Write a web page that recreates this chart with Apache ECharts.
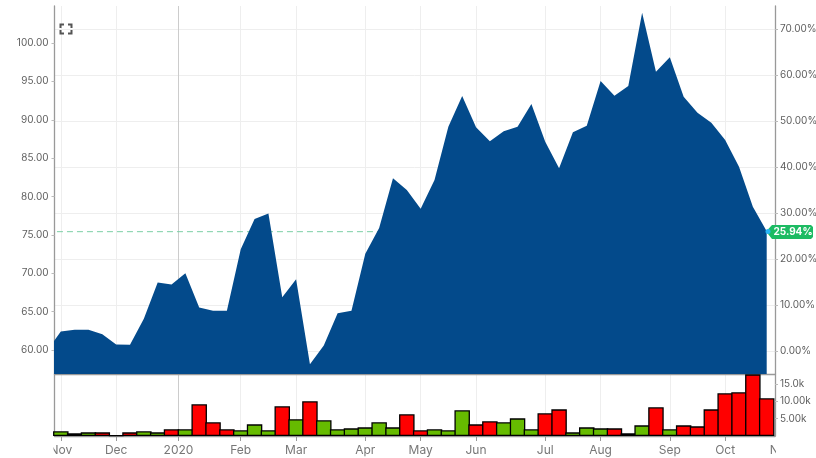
<!DOCTYPE html>
<html>
<head>
<meta charset="utf-8">
<style>
  html, body { margin: 0; padding: 0; background: #fff; }
  #main { width: 816px; height: 458px; }
</style>
<script src="https://cdn.jsdelivr.net/npm/echarts@6/dist/echarts.min.js"></script>
</head>
<body>
<div id="main"></div>
<script>
// weekly closes, the first one sits just left of the visible plot
const prices = [59.9, 62.41, 62.63, 62.63, 62.07, 60.72, 60.68, 64.06, 68.79, 68.53, 70.01, 65.53, 65.1, 65.1,
  73.14, 77.08, 77.8, 66.89, 69.23, 58.16, 60.59, 64.8, 65.1, 72.53, 75.91, 82.38, 80.86, 78.42, 82.16, 89.1,
  93.1, 89.02, 87.2, 88.5, 89.1, 92.06, 87.15, 83.68, 88.37, 89.23, 95.05, 93.14, 94.4, 103.95, 96.26, 98.14,
  93.01, 90.92, 89.62, 87.37, 83.89, 78.68, 75.46]
const volumes = [1350, 770, 1060, 1060, 190, 1060, 1350, 1060, 1930, 1930, 9150, 3950, 1930, 1640, 3370, 1640,
  8570, 4820, 10020, 4530, 1930, 2210, 2500, 3950, 2500, 6260, 1640, 1930, 1640, 7420, 3370, 4240, 3950, 5100,
  1930, 6550, 7700, 1060, 2500, 2210, 2210, 770, 3080, 8280, 1930, 3080, 2790, 7700, 12330, 12620, 17800, 10880]
// 1 = close up (green), 0 = close down (red)
const volumeUp = [1, 1, 1, 0, 1, 0, 1, 1, 0, 1, 0, 0, 0, 1, 1, 1, 0, 1, 0, 1, 1, 1, 1, 1, 1, 0, 0, 1, 1, 1, 0, 0,
  1, 1, 1, 0, 0, 1, 1, 1, 0, 1, 1, 0, 1, 0, 0, 0, 0, 0, 0, 0]
const monthWeeks = [0, 4, 8.5, 13, 17, 22, 26, 30, 35, 39, 44, 48]
const monthLabels = ['Nov', 'Dec', '2020', 'Feb', 'Mar', 'Apr', 'May', 'Jun', 'Jul', 'Aug', 'Sep', 'Oct']
const priceTicks = [60, 65, 70, 75, 80, 85, 90, 95, 100]
const percentTicks = [0, 10, 20, 30, 40, 50, 60, 70]
const volumeTicks = [5000, 10000, 15000]
const volumeLabels = ['5.00k', '10.00k', '15.0k']
const lastPercent = 25.94

const font = 'Inter'
const myChart = echarts.init(document.getElementById('main'))

const weekRange = { min: -0.455, max: 51.6 }
const monthLines = monthWeeks.map((w, i) => (monthLabels[i] === '2020' ? '#cccccc' : '#eeeeee'))
const axisLine = { show: true, onZero: false, lineStyle: { color: '#999', width: 1.3 } }

const option = {
  animation: false,
  grid: [
    { left: 54.5, right: 41, top: 6, height: 368, show: false, outerBoundsMode: 'none' },
    { left: 54.5, right: 41, top: 374, height: 62, show: false, outerBoundsMode: 'none' },
  ],
  xAxis: [
    {
      type: 'value', gridIndex: 0, ...weekRange, axisLine,
      axisTick: { show: false, customValues: monthWeeks },
      axisLabel: { show: false, customValues: monthWeeks },
      splitLine: { show: true, lineStyle: { color: monthLines, width: 1 } },
    },
    {
      type: 'value', gridIndex: 1, ...weekRange, axisLine,
      axisTick: { show: true, length: 5, customValues: monthWeeks, lineStyle: { color: '#999' } },
      axisLabel: {
        show: true, customValues: monthWeeks, margin: 8, color: '#777', fontFamily: font, fontSize: 12,
        hideOverlap: false, showMinLabel: true, showMaxLabel: true,
        formatter: (v) => monthLabels[monthWeeks.indexOf(v)],
      },
      splitLine: { show: true, lineStyle: { color: monthLines, width: 1 } },
    },
  ],
  yAxis: [
    {
      type: 'value', gridIndex: 0, position: 'left', min: 56.875, max: 104.82, axisLine,
      axisTick: { show: true, length: 3, customValues: priceTicks, lineStyle: { color: '#bbb' } },
      axisLabel: {
        customValues: priceTicks, margin: 6, color: '#5f5f5f', fontFamily: font, fontSize: 10,
        formatter: (v) => v.toFixed(2),
      },
      splitLine: { show: false },
    },
    {
      type: 'value', gridIndex: 0, position: 'right', min: -5, max: 75, axisLine,
      axisTick: { show: true, length: 3, customValues: percentTicks, lineStyle: { color: '#bbb' } },
      axisLabel: {
        customValues: percentTicks, margin: 5, color: '#5f5f5f', fontFamily: font, fontSize: 10,
        formatter: (v) => v.toFixed(2) + '%',
      },
      splitLine: { show: true, lineStyle: { color: '#eeeeee', width: 1 } },
    },
    {
      type: 'value', gridIndex: 1, position: 'left', min: 0, max: 17900, axisLine,
      axisTick: { show: false },
      axisLabel: { show: false },
      splitLine: { show: false },
    },
    {
      type: 'value', gridIndex: 1, position: 'right', min: 0, max: 17900, axisLine,
      axisTick: { show: true, length: 3, customValues: volumeTicks, lineStyle: { color: '#bbb' } },
      axisLabel: {
        customValues: volumeTicks, margin: 5, color: '#5f5f5f', fontFamily: font, fontSize: 10,
        formatter: (v) => volumeLabels[volumeTicks.indexOf(v)],
      },
      splitLine: { show: false },
    },
  ],
  series: [
    {
      type: 'line', name: 'last', xAxisIndex: 0, yAxisIndex: 1, z: 1, silent: true, symbol: 'none',
      lineStyle: { color: '#7ccfa5', width: 1, type: [6, 4] },
      data: [[-1, lastPercent], [51, lastPercent]],
    },
    {
      type: 'line', name: 'price', xAxisIndex: 0, yAxisIndex: 0, z: 2, symbol: 'none',
      lineStyle: { width: 0 },
      areaStyle: { color: '#034a8b', opacity: 1, origin: 'start' },
      data: prices.map((p, i) => [i - 1, p]),
    },
    {
      type: 'bar', name: 'volume', xAxisIndex: 1, yAxisIndex: 2, barWidth: 15.5,
      data: volumes.map((v, i) => ({
        value: [i, v],
        itemStyle: { color: volumeUp[i] ? '#66bb00' : '#ff0000', borderColor: '#000', borderWidth: 1.3 },
      })),
    },
  ],
  graphic: [
    // the last month label runs past the plot edge, both ends get cut off
    {
      type: 'text', z: 99, x: 781, y: 450,
      style: { text: 'Nov', fill: '#777', font: '12px ' + font, textAlign: 'center', textVerticalAlign: 'middle' },
    },
    { type: 'rect', z: 100, shape: { x: 0, y: 438, width: 53.5, height: 20 }, style: { fill: '#fff' } },
    { type: 'rect', z: 100, shape: { x: 776, y: 438, width: 40, height: 20 }, style: { fill: '#fff' } },
    // fullscreen icon
    ...[
      [[60.5, 28], [60.5, 24.5], [64, 24.5]], [[68, 24.5], [71.5, 24.5], [71.5, 28]],
      [[71.5, 30], [71.5, 33.5], [68, 33.5]], [[64, 33.5], [60.5, 33.5], [60.5, 30]],
    ].map((points) => ({
      type: 'polyline', z: 100, shape: { points }, style: { stroke: '#555', lineWidth: 2, fill: null },
    })),
    // last value flag
    {
      type: 'polygon', z: 101,
      shape: { points: [[766, 231.5], [772, 225], [811, 225], [813, 227], [813, 237], [811, 239], [772, 239]] },
      style: { fill: '#1dbb63' },
    },
    { type: 'circle', z: 102, shape: { cx: 768, cy: 231.5, r: 2.5 }, style: { fill: '#29b6f6' } },
    {
      type: 'text', z: 103, x: 793, y: 232,
      style: {
        text: lastPercent.toFixed(2) + '%', fill: '#fff', font: 'bold 10px ' + font,
        textAlign: 'center', textVerticalAlign: 'middle',
      },
    },
  ],
}

myChart.setOption(option)
</script>
</body>
</html>
